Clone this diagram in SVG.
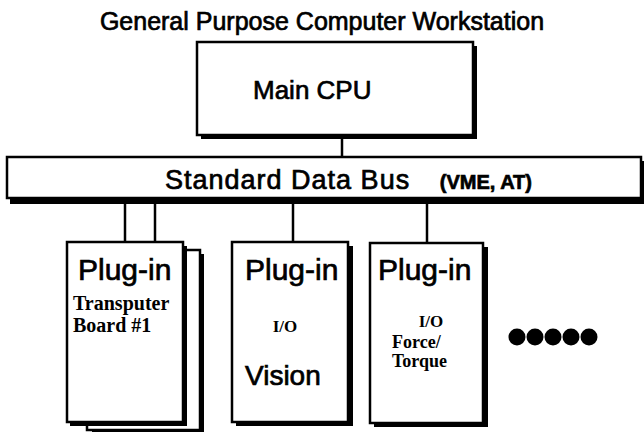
<svg xmlns="http://www.w3.org/2000/svg" width="644" height="433" viewBox="0 0 644 433">
<style>
.box{fill:#fff;stroke:#000;stroke-width:2.5}
.sh{fill:#000}
.hv{font-family:"Liberation Sans",Arial,sans-serif;fill:#000;stroke:#000;stroke-width:0.7}
.tm{font-family:"Liberation Serif","Times New Roman",serif;font-weight:bold;fill:#000}
.ln{stroke:#000;stroke-width:2.5;fill:none}
</style>
<rect width="644" height="433" fill="#fff"/>
<text class="hv" x="322" y="30" font-size="25" text-anchor="middle">General Purpose Computer Workstation</text>
<g id="connectors">
<line class="ln" x1="342" y1="135" x2="342" y2="158"/>
<line class="ln" x1="125" y1="200" x2="125" y2="243"/>
<line class="ln" x1="155" y1="200" x2="155" y2="243"/>
<line class="ln" x1="293" y1="200" x2="293" y2="243"/>
<line class="ln" x1="427" y1="200" x2="427" y2="243"/>
</g>
<g id="cpu">
<rect class="sh" x="201" y="46" width="276" height="93"/>
<rect class="box" x="197" y="42" width="276" height="93"/>
<text class="hv" x="253" y="99" font-size="26">Main CPU</text>
</g>
<g id="bus">
<rect class="sh" x="10" y="161" width="634" height="43"/>
<rect class="box" x="7" y="157" width="634" height="41"/>
<text class="hv" x="165" y="189" font-size="27" letter-spacing="1">Standard Data Bus</text>
<text class="hv" x="532" y="189" font-size="20" font-weight="bold" stroke-width="0" text-anchor="end">(VME, AT)</text>
</g>
<g id="plugin1">
<rect class="sh" x="92" y="254" width="112" height="178"/>
<rect class="box" x="87" y="250" width="113" height="180"/>
<rect class="sh" x="70" y="246" width="117" height="180"/>
<rect class="box" x="67" y="242" width="116" height="180"/>
<text class="hv" x="78" y="280" font-size="30">Plug-in</text>
<text class="tm" x="73" y="310" font-size="20">Transputer</text>
<text class="tm" x="73" y="332" font-size="20">Board #1</text>
</g>
<g id="plugin2">
<rect class="sh" x="236" y="246" width="117" height="180"/>
<rect class="box" x="232" y="242" width="116" height="180"/>
<text class="hv" x="245" y="280" font-size="30">Plug-in</text>
<text class="tm" x="285" y="332" font-size="17" text-anchor="middle">I/O</text>
<text class="hv" x="245" y="385" font-size="28">Vision</text>
</g>
<g id="plugin3">
<rect class="sh" x="374" y="247" width="114" height="180"/>
<rect class="box" x="370" y="243" width="113" height="180"/>
<text class="hv" x="378" y="280" font-size="30">Plug-in</text>
<text class="tm" x="431" y="327" font-size="17" text-anchor="middle">I/O</text>
<text class="tm" x="392" y="348" font-size="18">Force/</text>
<text class="tm" x="392" y="367" font-size="18">Torque</text>
</g>
<g id="dots">
<circle cx="517" cy="337" r="8.5"/>
<circle cx="535" cy="337" r="8.5"/>
<circle cx="553" cy="337" r="8.5"/>
<circle cx="571" cy="337" r="8.5"/>
<circle cx="589" cy="337" r="8.5"/>
</g>
</svg>
